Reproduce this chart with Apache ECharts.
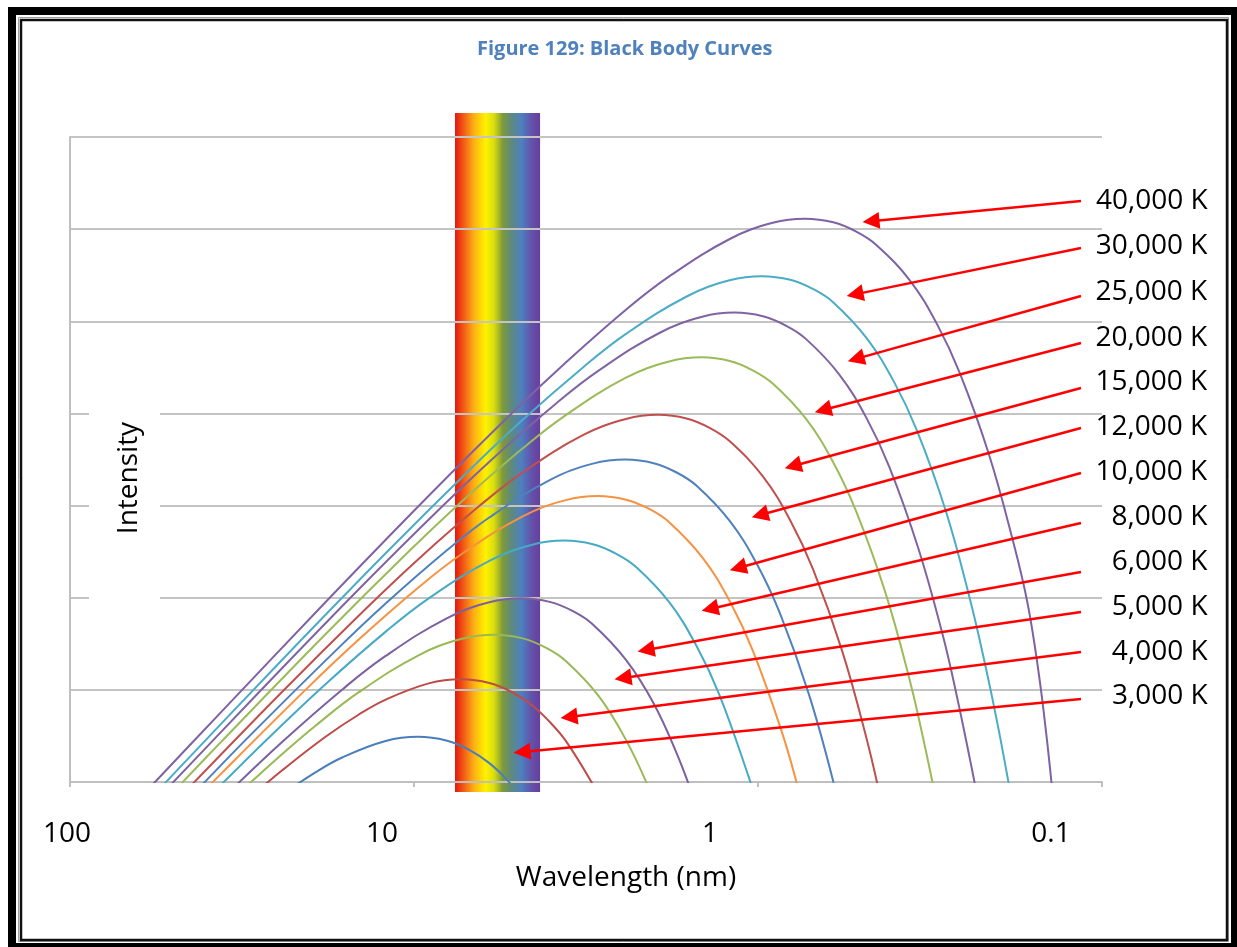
<!DOCTYPE html>
<html>
<head>
<meta charset="utf-8">
<script src="https://cdn.jsdelivr.net/npm/echarts@6/dist/echarts.min.js"></script>
<style>html,body{margin:0;padding:0;background:#fff}#c{width:1237px;height:947px}</style>
</head>
<body>
<div id="c"></div>
<script>
// ---------- data (wavelength in nm, intensity in decades above the axis floor) ----------
const curveLabels = ['3,000 K','4,000 K','5,000 K','6,000 K','8,000 K','10,000 K','12,000 K','15,000 K','20,000 K','25,000 K','30,000 K','40,000 K'];
const xTickLabels = ['100','10','1','0.1'];
const bandRange = [7.6, 4.3];

const t3000 = [[24.18,-0.137],[19.34,0.105],[16.12,0.269],[12.09,0.445],[9.74,0.49],[8.06,0.45],[6.91,0.349],[6.04,0.205],[5.37,0.026],[4.84,-0.179]];
const t4000 = [[29.0,-0.123],[24.16,0.127],[18.12,0.488],[14.50,0.730],[12.08,0.894],[9.06,1.070],[7.30,1.115],[6.04,1.075],[5.18,0.974],[4.53,0.830],[4.03,0.651],[3.62,0.446],[3.02,-0.027]];
const t5000 = [[34.11,-0.207],[29.00,0.038],[23.20,0.361],[19.33,0.611],[14.50,0.972],[9.67,1.378],[7.25,1.554],[5.84,1.599],[4.83,1.559],[4.14,1.458],[3.62,1.314],[2.90,0.930],[2.42,0.457],[2.07,-0.077]];
const t6000 = [[34.54,-0.112],[24.18,0.434],[16.12,1.007],[12.09,1.368],[8.06,1.774],[6.04,1.950],[4.87,1.995],[4.03,1.955],[3.45,1.854],[3.02,1.710],[2.42,1.326],[2.01,0.853],[1.727,0.319],[1.560,-0.111]];
const t8000 = [[45.30,-0.388],[32.95,0.130],[25.89,0.513],[18.12,1.059],[12.08,1.632],[9.06,1.993],[6.04,2.399],[4.53,2.575],[3.65,2.620],[3.02,2.580],[2.59,2.479],[2.265,2.335],[1.812,1.951],[1.510,1.478],[1.294,0.944],[1.066,0.063],[1.007,-0.247]];
const t10000 = [[48.33,-0.381],[36.24,0.096],[20.71,0.997],[14.50,1.543],[9.67,2.116],[7.25,2.477],[4.83,2.883],[3.62,3.059],[2.92,3.104],[2.42,3.064],[2.07,2.963],[1.812,2.819],[1.450,2.435],[1.208,1.962],[1.036,1.428],[0.853,0.547],[0.763,-0.080]];
const t12000 = [[60.3,-0.666],[40.2,0.015],[30.2,0.492],[17.24,1.393],[12.07,1.939],[8.04,2.512],[6.03,2.873],[4.02,3.279],[3.02,3.455],[2.43,3.500],[2.01,3.460],[1.724,3.359],[1.508,3.215],[1.207,2.831],[1.005,2.358],[0.862,1.824],[0.710,0.943],[0.603,-0.007]];
const t15000 = [[48.4,-0.181],[24.2,0.977],[13.83,1.878],[9.68,2.424],[6.45,2.997],[4.84,3.358],[3.23,3.764],[2.42,3.940],[1.95,3.985],[1.614,3.945],[1.383,3.844],[1.210,3.700],[0.968,3.316],[0.807,2.843],[0.692,2.309],[0.570,1.428],[0.484,0.478],[0.440,-0.184]];
const t20000 = [[48.3,-0.046],[36.2,0.443],[18.12,1.601],[10.36,2.502],[7.25,3.048],[4.83,3.621],[3.62,3.982],[2.42,4.388],[1.812,4.564],[1.46,4.609],[1.208,4.569],[1.036,4.468],[0.906,4.324],[0.725,3.940],[0.604,3.467],[0.518,2.933],[0.426,2.052],[0.362,1.102],[0.3295,0.440],[0.302,-0.239]];
const t25000 = [[58.1,-0.254],[29.0,0.928],[14.52,2.086],[8.30,2.987],[5.81,3.533],[3.87,4.106],[2.90,4.467],[1.936,4.873],[1.452,5.049],[1.17,5.094],[0.968,5.054],[0.830,4.953],[0.726,4.809],[0.581,4.425],[0.484,3.952],[0.415,3.418],[0.342,2.537],[0.290,1.587],[0.264,0.926],[0.242,0.246],[0.232,-0.100]];
const t30000 = [[60.4,-0.242],[48.4,0.142],[24.2,1.324],[12.09,2.482],[6.91,3.383],[4.84,3.929],[3.22,4.502],[2.42,4.863],[1.612,5.269],[1.209,5.445],[0.974,5.49],[0.806,5.450],[0.691,5.349],[0.604,5.205],[0.484,4.821],[0.403,4.348],[0.345,3.814],[0.284,2.933],[0.242,1.983],[0.220,1.321],[0.2015,0.642],[0.186,-0.053]];
const t40000 = [[72.5,-0.427],[55.8,0.025],[36.2,0.766],[18.12,1.948],[9.06,3.106],[5.18,4.007],[3.62,4.553],[2.42,5.126],[1.812,5.487],[1.208,5.893],[0.906,6.069],[0.730,6.114],[0.604,6.074],[0.518,5.973],[0.453,5.829],[0.362,5.445],[0.302,4.972],[0.259,4.438],[0.2132,3.557],[0.1812,2.607],[0.1647,1.945],[0.1530,1.20],[0.1450,0.50],[0.1390,-0.15]];

// arrow tails (near labels) and heads (at curves), same order as curveLabels
const arrowTail = [[0.1151,0.901],[0.1151,1.411],[0.1151,1.845],[0.1151,2.279],[0.1151,2.811],[0.1151,3.354],[0.1151,3.842],[0.1151,4.276],[0.1151,4.764],[0.1151,5.275],[0.1151,5.796],[0.1151,6.306]];
const arrowHead = [[4.853,0.326],[3.543,0.705],[2.469,1.129],[2.116,1.433],[1.379,1.878],[1.143,2.323],[0.9867,2.898],[0.7912,3.430],[0.6471,4.037],[0.5189,4.592],[0.5224,5.292],[0.4694,6.086]];

// ---------- styles ----------
const curves = [t3000,t4000,t5000,t6000,t8000,t10000,t12000,t15000,t20000,t25000,t30000,t40000];
const colors = ['#4A7EBB','#BE4B48','#98B954','#7D60A0','#46AAC5','#F69240','#4F81BD','#C0504D','#9BBB59','#8064A2','#4BACC6','#7E62A5'];
const labelNudgeY = [-1.1, 2.4, -2.4, -6.9, -2.1, 3.5, 3.4, -1.6, -1.7, 0.5, 1.5, 1.9];
const FONT = '"Open Sans","Noto Sans","DejaVu Sans",sans-serif';

const chart = echarts.init(document.getElementById('c'), null, {renderer:'canvas'});

const labelShift = {'100':3,'10':32,'1':48,'0.1':51};
const rich = {};
xTickLabels.forEach((t,i)=>{
  rich['l'+i] = {fontSize:28, fontFamily:FONT, color:'#000', lineHeight:30, padding:[0, 2*labelShift[t], 0, 0]};
});

const series = curves.map((d,i)=>{
  const s = labelNudgeY[i];
  const padLeft = curveLabels[i].length < 8 ? 16 : 0;
  return {
    type:'line',
    name: curveLabels[i],
    data: d,
    smooth: 0.4,
    symbol:'none',
    showSymbol:false,
    clip:true,
    z:3,
    lineStyle:{color:colors[i], width:2},
    itemStyle:{color:colors[i]},
    animation:false,
    markLine:{
      silent:true,
      animation:false,
      symbol:['none','triangle'],
      symbolSize:17,
      lineStyle:{color:'#FF0000', width:2.5, type:'solid'},
      itemStyle:{color:'#FF0000'},
      label:{show:true, position:'start', distance:15,
        formatter: '{t|' + curveLabels[i] + '}',
        rich:{t:{color:'#000', fontSize:28, fontFamily:FONT, lineHeight:34,
          padding:[s>0?2*s:0, 0, s<0?-2*s:0, padLeft]}}},
      data:[[{coord: arrowTail[i]}, {coord: arrowHead[i]}]]
    }
  };
});

const option = {
  backgroundColor:'#fff',
  animation:false,
  title:{
    text:'Figure 129: Black Body Curves',
    left:477,
    top:38,
    padding:0,
    textStyle:{color:'#4F81BD', fontSize:20, fontWeight:'bold', fontFamily:FONT, lineHeight:22}
  },
  grid:{left:70, right:135, top:137, bottom:165, containLabel:false},
  xAxis:{
    type:'log', logBase:10, min:0.1, max:100, inverse:true,
    axisLine:{show:true, lineStyle:{color:'#BFBFBF', width:2}},
    axisTick:{show:true, length:5, lineStyle:{color:'#BFBFBF', width:2}},
    splitLine:{show:false},
    axisLabel:{
      margin:37,
      formatter:(v)=>{
        const k = 2 - Math.round(Math.log10(v));
        return '{l'+k+'|'+xTickLabels[k]+'}';
      },
      rich: rich
    },
    name:'Wavelength (nm)',
    nameLocation:'middle',
    nameGap:79,
    nameTextStyle:{fontSize:28, color:'#000', fontFamily:FONT, lineHeight:34, padding:[0,0,0,80]}
  },
  yAxis:{
    type:'value', min:0, max:7, interval:1,
    axisLine:{show:true, lineStyle:{color:'#BFBFBF', width:2}},
    axisTick:{show:false},
    axisLabel:{show:false},
    splitLine:{show:true, lineStyle:{color:'#C4C4C4', width:2}}
  },
  series: series
};
chart.setOption(option);

const xL = chart.convertToPixel({xAxisIndex:0}, bandRange[0]);
const xR = chart.convertToPixel({xAxisIndex:0}, bandRange[1]);
const yTop = chart.convertToPixel({yAxisIndex:0}, 7);
const yBot = chart.convertToPixel({yAxisIndex:0}, 0);

chart.setOption({
  graphic:[
    {type:'rect', z:-10, silent:true, shape:{x:8, y:7, width:1300, height:1000}, style:{fill:'#000'}},
    {type:'rect', z:-9, silent:true, shape:{x:16, y:15, width:1215, height:928}, style:{fill:'#fff'}},
    {type:'rect', z:-8, silent:true, shape:{x:18.5, y:17.5, width:1210, height:924}, style:{fill:'none', stroke:'#A0A0A0', lineWidth:1}},
    {type:'rect', z:-8, silent:true, shape:{x:21, y:20, width:1206, height:920}, style:{fill:'#fff', stroke:'#111', lineWidth:2.5}},
    {type:'rect', z:-5, silent:true, shape:{x:xL, y:yTop-24, width:xR-xL, height:(yBot+10)-(yTop-24)},
      style:{fill:new echarts.graphic.LinearGradient(0,0,1,0,[
        {offset:0, color:'#E3170F'},
        {offset:0.1, color:'#F25A16'},
        {offset:0.22, color:'#FCAE14'},
        {offset:0.36, color:'#FFF200'},
        {offset:0.46, color:'#D8DC10'},
        {offset:0.56, color:'#7E9A3A'},
        {offset:0.66, color:'#5E8A7C'},
        {offset:0.78, color:'#4D80C0'},
        {offset:0.9, color:'#6252AA'},
        {offset:1, color:'#6A3D9E'}
      ])}},
    {type:'rect', z:1, silent:true, shape:{x:89, y:413, width:71, height:187}, style:{fill:'#fff'}},
    {type:'text', z:2, silent:true, x:129, y:478, rotation:Math.PI/2,
      style:{text:'Intensity', font:'28px "Open Sans","Noto Sans",sans-serif', fill:'#000', textAlign:'center', textVerticalAlign:'middle'}}
  ]
});
</script>
</body>
</html>
